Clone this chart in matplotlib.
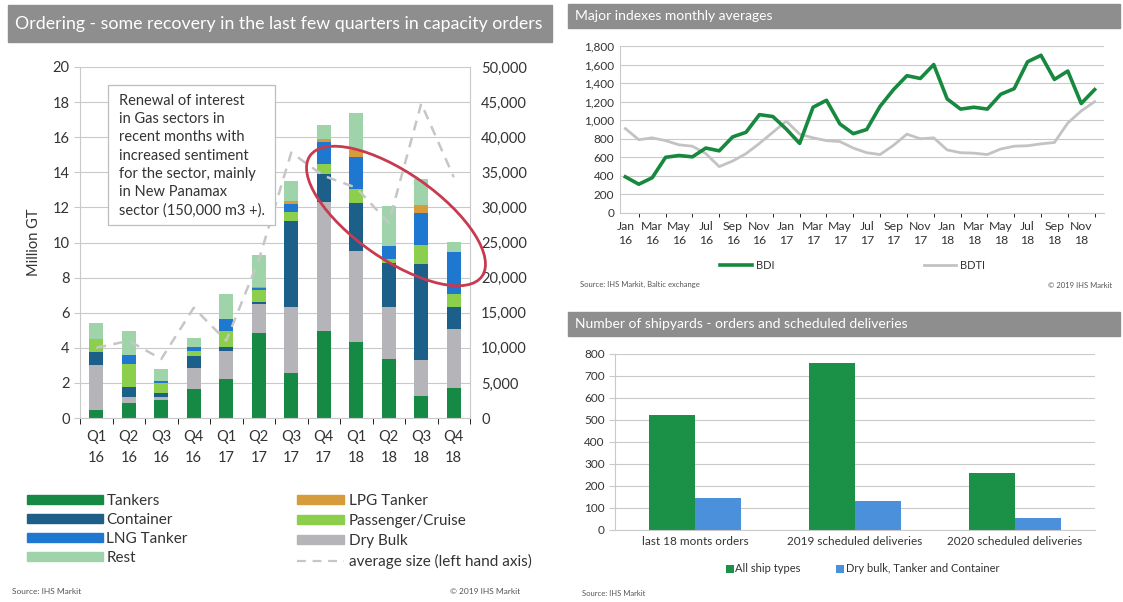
import matplotlib
matplotlib.use("Agg")
import matplotlib.pyplot as plt
import numpy as np
from matplotlib.patches import Ellipse, Rectangle, Patch
from matplotlib.lines import Line2D
from matplotlib.ticker import FuncFormatter

plt.rcParams["font.family"] = ["Lato", "DejaVu Sans"]

# --- ordering by quarter (million GT) ---
quarters = ["Q1\n16", "Q2\n16", "Q3\n16", "Q4\n16", "Q1\n17", "Q2\n17",
            "Q3\n17", "Q4\n17", "Q1\n18", "Q2\n18", "Q3\n18", "Q4\n18"]
tankers = [0.45, 0.83, 1.02, 1.63, 2.20, 4.82, 2.58, 4.95, 4.34, 3.36, 1.27, 1.69]
dry_bulk = [2.57, 0.37, 0.18, 1.20, 1.63, 1.67, 3.72, 7.35, 5.18, 2.94, 2.03, 3.37]
container = [0.72, 0.55, 0.20, 0.72, 0.19, 0.10, 4.93, 1.60, 2.75, 2.55, 5.46, 1.29]
passenger = [0.74, 1.32, 0.60, 0.28, 0.93, 0.72, 0.52, 0.55, 0.79, 0.23, 1.08, 0.70]
lng = [0.00, 0.53, 0.10, 0.19, 0.67, 0.10, 0.47, 1.25, 1.80, 0.72, 1.86, 2.41]
lpg = [0.00, 0.00, 0.00, 0.00, 0.00, 0.05, 0.15, 0.20, 0.42, 0.00, 0.42, 0.00]
rest = [0.91, 1.35, 0.67, 0.55, 1.42, 1.80, 1.13, 0.80, 2.08, 2.28, 1.51, 0.57]
avg_size = [10000, 11000, 8400, 15700, 11000, 22500, 37800, 34500, 32800, 27800, 44800, 34300]

# --- monthly index averages ---
month_labels = ["Jan\n16", "Mar\n16", "May\n16", "Jul\n16", "Sep\n16", "Nov\n16",
                "Jan\n17", "Mar\n17", "May\n17", "Jul\n17", "Sep\n17", "Nov\n17",
                "Jan\n18", "Mar\n18", "May\n18", "Jul\n18", "Sep\n18", "Nov\n18"]
bdi = [390, 310, 380, 600, 620, 605, 700, 670, 820, 870, 1060, 1040,
       905, 750, 1140, 1215, 960, 855, 900, 1150, 1330, 1480, 1450, 1600,
       1230, 1120, 1140, 1120, 1280, 1340, 1630, 1700, 1440, 1530, 1180, 1330]
bdti = [910, 790, 810, 780, 735, 720, 640, 500, 560, 640, 750, 870,
        990, 850, 810, 780, 770, 700, 650, 630, 730, 850, 800, 810,
        680, 650, 645, 630, 690, 720, 725, 745, 760, 970, 1100, 1200]

# --- shipyards ---
yard_cats = ["last 18 monts orders", "2019 scheduled deliveries", "2020 scheduled deliveries"]
all_types = [525, 757, 257]
dry_tank_cont = [145, 130, 54]

W, H = 1123, 602
GRID = "#c9c9c9"
TXT = "#333333"
C_TANK, C_DRY, C_CONT = "#168a45", "#b5b5b9", "#1c5f88"
C_PASS, C_LNG, C_LPG, C_REST = "#8ccf4d", "#1f78cf", "#d69c3c", "#9fd4aa"


def fx(px):
    return px / W


def fy(py):
    return 1 - py / H


def title_bar(x0, y0, x1, y1, text, size):
    fig.patches.append(Rectangle((fx(x0), fy(y1)), fx(x1 - x0), (y1 - y0) / H,
                                 transform=fig.transFigure, color="#8e8e8e", zorder=1))
    fig.text(fx(x0 + 7), fy((y0 + y1) / 2), text, color="white", fontsize=size,
             va="center", ha="left")


def style_axes(ax):
    for s in ["top", "right"]:
        ax.spines[s].set_visible(False)
    for s in ["left", "bottom"]:
        ax.spines[s].set_color(GRID)
    ax.tick_params(colors=GRID, labelcolor=TXT)
    ax.grid(axis="y", color=GRID, lw=0.8)
    ax.set_axisbelow(True)


fig = plt.figure(figsize=(W / 100, H / 100), dpi=100)

# ================= left: ordering =================
title_bar(8, 5, 552, 42, "Ordering - some recovery in the last few quarters in capacity orders", 12.8)

ax = fig.add_axes([fx(80), fy(418), fx(470 - 80), (418 - 67) / H])
style_axes(ax)
x = np.arange(len(quarters))
series = [(tankers, C_TANK), (dry_bulk, C_DRY), (container, C_CONT), (passenger, C_PASS),
          (lng, C_LNG), (lpg, C_LPG), (rest, C_REST)]
bottom = np.zeros(len(quarters))
for vals, col in series:
    ax.bar(x, vals, 0.42, bottom=bottom, color=col, zorder=2)
    bottom += np.array(vals)
ax.set_xlim(-0.5, len(quarters) - 0.5)
ax.set_ylim(0, 20)
ax.set_yticks(np.arange(0, 21, 2))
ax.set_xticks(x)
ax.set_xticklabels(quarters, fontsize=10.5, linespacing=1.6)
ax.set_xticks(np.arange(-0.5, len(quarters), 1), minor=True)
ax.tick_params(axis="x", which="major", length=0, pad=9)
ax.tick_params(axis="x", which="minor", length=4)
ax.tick_params(axis="y", labelsize=10.5, length=4)
ax.set_ylabel("Million GT", fontsize=10.5, color=TXT, labelpad=8)

ax2 = ax.twinx()
ax2.set_ylim(0, 50000)
ax2.set_yticks(np.arange(0, 50001, 5000))
ax2.yaxis.set_major_formatter(FuncFormatter(lambda v, p: f"{v:,.0f}"))
for s in ["top", "left", "bottom"]:
    ax2.spines[s].set_visible(False)
ax2.spines["right"].set_color(GRID)
ax2.tick_params(colors=GRID, labelcolor=TXT, labelsize=10.5, length=0, pad=8)
ax2.plot(x, avg_size, color="#c6c6c6", lw=1.8, ls=(0, (4, 3)), zorder=3)

# note box
fig.patches.append(Rectangle((fx(108), fy(225)), fx(275 - 108), 140 / H,
                             transform=fig.transFigure, facecolor="white",
                             edgecolor="#bdbdbd", lw=0.9, zorder=1))
fig.text(fx(119), fy(94), "Renewal of interest\nin Gas sectors in\nrecent months with\n"
         "increased sentiment\nfor the sector, mainly\nin New Panamax\nsector (150,000 m3 +).",
         fontsize=10.5, color=TXT, va="top", ha="left", linespacing=1.38, zorder=2)

fig.patches.append(Ellipse((3.96, (H - 216) / 100), 2.1, 0.86, angle=-35,
                           transform=fig.dpi_scale_trans, fill=False,
                           edgecolor="#c73a4f", lw=2, zorder=4))

leg_a = [Patch(color=C_TANK, label="Tankers"), Patch(color=C_CONT, label="Container"),
         Patch(color=C_LNG, label="LNG Tanker"), Patch(color=C_REST, label="Rest")]
leg_b = [Patch(color=C_LPG, label="LPG Tanker"), Patch(color=C_PASS, label="Passenger/Cruise"),
         Patch(color=C_DRY, label="Dry Bulk"),
         Line2D([], [], color="#c6c6c6", lw=1.6, ls=(0, (4, 3)), label="average size (left hand axis)")]
fig.legend(handles=leg_a, loc="upper left", bbox_to_anchor=(fx(27), fy(494)), frameon=False,
           fontsize=11, handlelength=5.0, handleheight=0.55, handletextpad=0.2,
           labelspacing=0.32, borderpad=0, borderaxespad=0, labelcolor=TXT)
fig.legend(handles=leg_b, loc="upper left", bbox_to_anchor=(fx(297), fy(494)), frameon=False,
           fontsize=11, handlelength=3.1, handleheight=0.55, handletextpad=0.3,
           labelspacing=0.4, borderpad=0, borderaxespad=0, labelcolor=TXT)

fig.text(fx(12), fy(592), "Source: IHS Markit", fontsize=6, color="#555555", va="center")
fig.text(fx(520), fy(592), "\u00a9 2019 IHS Markit", fontsize=6, color="#555555",
         va="center", ha="right")

# ================= top right: indexes =================
title_bar(568, 4, 1120, 28, "Major indexes monthly averages", 10)
bx = fig.add_axes([fx(620), fy(213), fx(1104 - 620), (213 - 46) / H])
style_axes(bx)
m = np.arange(len(bdi))
bx.plot(m, bdti, color="#c3c3c3", lw=2.0, zorder=2)
bx.plot(m, bdi, color="#17893f", lw=2.6, zorder=3)
bx.set_xlim(-0.4, 35.7)
bx.set_ylim(0, 1800)
bx.set_yticks(np.arange(0, 1801, 200))
bx.yaxis.set_major_formatter(FuncFormatter(lambda v, p: f"{v:,.0f}"))
bx.set_xticks(np.arange(0, 36, 2))
bx.set_xticklabels(month_labels, fontsize=8.8, linespacing=1.3)
bx.set_xticks(m, minor=True)
bx.tick_params(axis="x", which="major", length=0, pad=6)
bx.tick_params(axis="x", which="minor", length=3)
bx.tick_params(axis="y", labelsize=8.5, length=0, pad=4)
fig.legend(handles=[Line2D([], [], color="#17893f", lw=2.6, label="BDI"),
                    Line2D([], [], color="#c3c3c3", lw=2.0, label="BDTI")],
           loc="center left", bbox_to_anchor=(fx(720), fy(265)), ncol=2, frameon=False,
           fontsize=8, handlelength=2.9, handletextpad=0.3, columnspacing=13.5,
           borderpad=0, borderaxespad=0, labelcolor=TXT)
fig.text(fx(580), fy(284), "Source: IHS Markit, Baltic exchange", fontsize=5.5, color="#555555", va="center")
fig.text(fx(1112), fy(286), "\u00a9 2019 IHS Markit", fontsize=5.5, color="#555555",
         va="center", ha="right")

# ================= bottom right: shipyards =================
title_bar(568, 312, 1120, 336, "Number of shipyards - orders and scheduled deliveries", 10)
cx = fig.add_axes([fx(615), fy(530), fx(1095 - 615), (530 - 354) / H])
style_axes(cx)
k = np.arange(len(yard_cats))
cx.bar(k - 0.145, all_types, 0.29, color="#1a9146", label="All ship types", zorder=2)
cx.bar(k + 0.145, dry_tank_cont, 0.29, color="#4a90da",
       label="Dry bulk, Tanker and Container", zorder=2)
cx.set_xlim(-0.5, 2.5)
cx.set_ylim(0, 800)
cx.set_yticks(np.arange(0, 801, 100))
cx.set_xticks(k)
cx.set_xticklabels(yard_cats, fontsize=8.5)
cx.tick_params(axis="x", length=0, pad=4)
cx.tick_params(axis="y", labelsize=8.5, length=4)
fig.legend(loc="center left", bbox_to_anchor=(fx(726), fy(569)), ncol=2, frameon=False,
           handles=cx.get_legend_handles_labels()[0], fontsize=8, handlelength=0.7,
           handleheight=0.7, handletextpad=0.15, columnspacing=3.2,
           borderpad=0, borderaxespad=0, labelcolor=TXT)
fig.text(fx(582), fy(593), "Source: IHS Markit", fontsize=5.5, color="#555555", va="center")

fig.savefig("out.png", dpi=100)
